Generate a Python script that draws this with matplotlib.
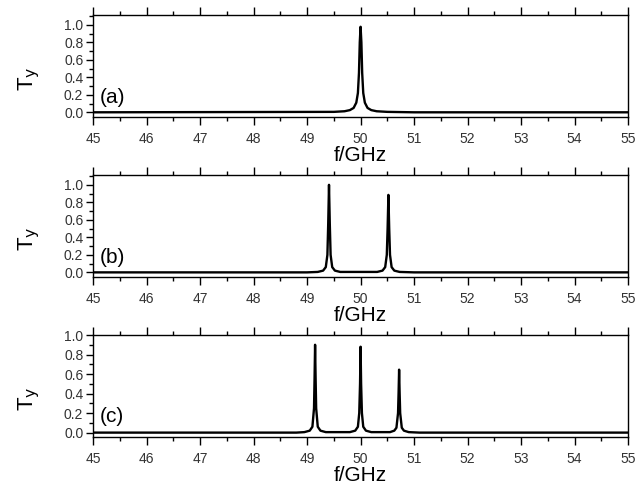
import matplotlib
matplotlib.use("Agg")
import matplotlib.pyplot as plt
from matplotlib.ticker import MultipleLocator

plt.rcParams['font.family'] = ['Liberation Sans', 'DejaVu Sans']

# Panel (a): single peak near 50 GHz
f_a = [45.0, 49.5, 49.7, 49.8, 49.87, 49.92, 49.95, 49.97, 49.985, 50.0,
       50.015, 50.03, 50.05, 50.08, 50.13, 50.2, 50.3, 50.5, 51.0, 55.0]
T_a = [0.0, 0.005, 0.012, 0.025, 0.05, 0.11, 0.22, 0.45, 0.8, 0.977,
       0.8, 0.45, 0.22, 0.11, 0.05, 0.025, 0.012, 0.005, 0.0, 0.0]

# Panel (b): two peaks
f_b = [45.0, 49.0, 49.2, 49.3, 49.35, 49.38, 49.395, 49.41, 49.425, 49.44, 49.47, 49.52, 49.62,
       50.31, 50.41, 50.46, 50.49, 50.505, 50.52, 50.535, 50.55, 50.58, 50.63, 50.73, 51.0, 55.0]
T_b = [0.0, 0.0, 0.005, 0.02, 0.06, 0.2, 0.55, 1.0, 0.55, 0.2, 0.06, 0.02, 0.005,
       0.005, 0.02, 0.06, 0.2, 0.5, 0.885, 0.5, 0.2, 0.06, 0.02, 0.005, 0.0, 0.0]

# Panel (c): three peaks
f_c = [45.0, 48.8, 48.95, 49.05, 49.1, 49.13, 49.14, 49.15, 49.16, 49.17, 49.2, 49.25, 49.35,
       49.8, 49.9, 49.95, 49.975, 49.99, 50.0, 50.01, 50.025, 50.05, 50.1, 50.2,
       50.55, 50.63, 50.67, 50.7, 50.71, 50.72, 50.73, 50.74, 50.77, 50.81, 50.9, 51.1, 55.0]
T_c = [0.0, 0.0, 0.005, 0.02, 0.06, 0.25, 0.55, 0.90, 0.55, 0.25, 0.06, 0.02, 0.005,
       0.005, 0.02, 0.06, 0.2, 0.5, 0.88, 0.5, 0.2, 0.06, 0.02, 0.005,
       0.005, 0.02, 0.05, 0.2, 0.4, 0.645, 0.4, 0.2, 0.05, 0.02, 0.005, 0.0, 0.0]

panel_labels = ['(a)', '(b)', '(c)']
xlabel = 'f/GHz'
ylabel = r'T$_{\rm y}$'
xticks = [45, 46, 47, 48, 49, 50, 51, 52, 53, 54, 55]
yticks = [0.0, 0.2, 0.4, 0.6, 0.8, 1.0]

fig = plt.figure(figsize=(6.44, 4.88), dpi=100)
left, width, height = 0.1444, 0.831, 0.209
bottoms = [0.760, 0.432, 0.1045]
ylims = [(-0.055, 1.11), (-0.055, 1.11), (-0.045, 1.0)]
data = [(f_a, T_a), (f_b, T_b), (f_c, T_c)]
tickcol = '#333333'

for i in range(3):
    ax = fig.add_axes([left, bottoms[i], width, height])
    fx, ty = data[i]
    ax.plot(fx, ty, color='black', lw=1.7)
    ax.set_xlim(45, 55)
    ax.set_ylim(*ylims[i])
    ax.set_xticks(xticks)
    ax.set_xticklabels([str(t) for t in xticks])
    ax.set_yticks(yticks)
    ax.set_yticklabels([f'{t:.1f}' for t in yticks])
    ax.xaxis.set_minor_locator(MultipleLocator(0.5))
    ax.yaxis.set_minor_locator(MultipleLocator(0.1))
    ax.tick_params(axis='x', which='major', direction='out', length=6, width=1,
                   labelsize=10, top=True, pad=5, labelcolor=tickcol)
    ax.tick_params(axis='y', which='major', direction='out', length=5, width=1,
                   labelsize=10, right=False, pad=2, labelcolor=tickcol)
    ax.tick_params(axis='x', which='minor', direction='out', length=3, width=1, top=True)
    ax.tick_params(axis='y', which='minor', direction='out', length=3, width=1, right=False)
    for s in ax.spines.values():
        s.set_linewidth(1.0)
    ax.set_xlabel(xlabel, fontsize=15, labelpad=0)
    ax.set_ylabel(ylabel, fontsize=16)
    ax.yaxis.set_label_coords(-0.095, 0.38)
    ax.text(45.12, 0.17, panel_labels[i], fontsize=15, va='center', ha='left')

fig.savefig('out.png', dpi=100)
